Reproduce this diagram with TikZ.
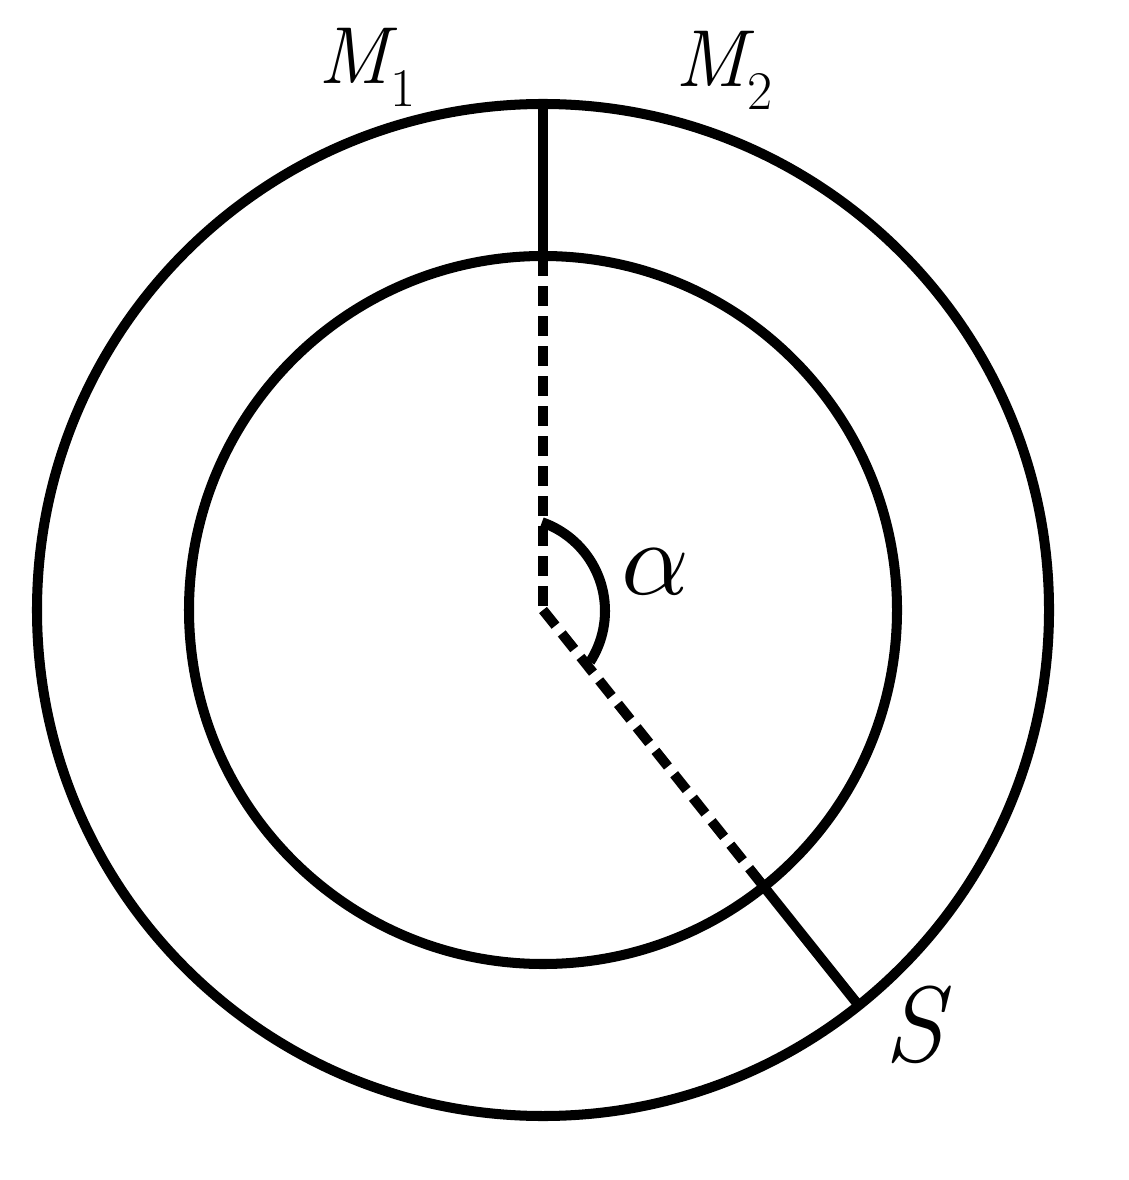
\documentclass[tikz,border=0pt]{standalone}
\usepackage{fontspec}
\usepackage{graphicx}
\begin{document}
\begin{tikzpicture}[x=0.01cm,y=-0.01cm,
  ring/.style={line width=2.85pt},
  solidline/.style={line width=2.85pt},
  dashline/.style={line width=2.85pt, dash pattern=on 5.69pt off 2.85pt},
  lbl/.style={inner sep=0pt, outer sep=0pt}]
\fill[white] (0,0) rectangle (1128,1180);
\useasboundingbox (0,0) rectangle (1128,1180);
\coordinate (C) at (543,610);
\path (C) ++(-90:506) coordinate (Otop);
\path (C) ++(-90:354) coordinate (Itop);
\path (C) ++(51.4:354) coordinate (Idiag);
\path (C) ++(51.4:506) coordinate (Odiag);
\draw[ring] (C) circle[radius=506];
\draw[ring] (C) circle[radius=354];
\draw[solidline] (Otop) -- (Itop);
\draw[dashline] (Itop) -- (C);
\draw[dashline] (C) -- (Idiag);
\draw[solidline] (Idiag) -- (Odiag);
\coordinate (A) at (511,611);
\draw[solidline] (A) ++(-70.8:94) arc[start angle=-70.8, end angle=32.8, radius=94];
\node[lbl, anchor=base west] (m1) at (318,84) {{\fontsize{23}{23}\selectfont\itshape M}\kern0.3pt\raisebox{-6.3pt}{\fontsize{15.5}{15.5}\selectfont 1}};
\node[lbl, anchor=base west] (m2) at (675,87) {{\fontsize{23}{23}\selectfont\itshape M}\kern0.3pt\raisebox{-6.3pt}{\fontsize{15.5}{15.5}\selectfont 2}};
\node[lbl] (s) at (914,1025) {\fontsize{30.5}{30.5}\selectfont\itshape S};
\node[lbl] (alpha) at (655,572) {\scalebox{3.0}{$\alpha$}};
\end{tikzpicture}
\end{document}
